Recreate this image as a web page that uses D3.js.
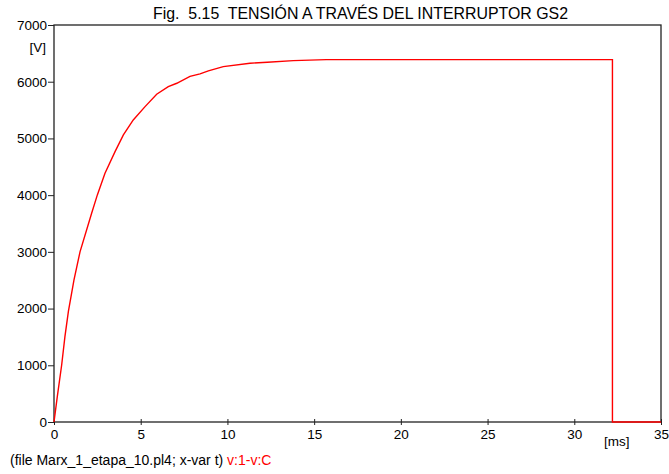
<!DOCTYPE html>
<html>
<head>
<meta charset="utf-8">
<script src="https://cdn.jsdelivr.net/npm/d3@7"></script>
<style>
  body { margin: 0; background: #fff; }
  text { font-family: "Liberation Sans", Arial, sans-serif; fill: #000; }
</style>
</head>
<body>
<div id="svg"></div>
<script>
// time [ms] and voltage [V]
let time = [0, 0.19, 0.44, 0.63, 0.83, 1.15, 1.5, 2.17, 2.5, 2.94, 3.52, 4.0, 4.57, 5.25, 5.92, 6.59, 7.08, 7.84, 8.42, 8.9, 9.76, 11.3, 12.3, 13.8, 15.7, 17.1, 20, 25, 30, 32.2, 32.2, 35];
let volts = [0, 446, 1000, 1505, 1950, 2500, 3000, 3680, 4004, 4386, 4767, 5062, 5326, 5561, 5780, 5914, 5973, 6095, 6138, 6190, 6266, 6325, 6344, 6372, 6390, 6390, 6390, 6390, 6390, 6390, 0, 0];
let xTicks = [0, 5, 10, 15, 20, 25, 30, 35];
let yTicks = [0, 1000, 2000, 3000, 4000, 5000, 6000, 7000];

function makeGraph(){
  let w = 669;
  let h = 474;
  let fs = 13.5;

  let svg = d3.select('#svg').append('svg').attr('width', w).attr('height', h);

  let xScale = d3.scaleLinear().domain([0, 35]).range([54, 661]);
  let yScale = d3.scaleLinear().domain([0, 7000]).range([422, 25]);

  // frame
  svg.append('rect')
    .attr('x', 54).attr('y', 25)
    .attr('width', 607).attr('height', 397)
    .attr('fill', 'none').attr('stroke', '#222').attr('stroke-width', 1.3);

  let xAxis = d3.axisBottom(xScale).tickValues(xTicks).tickFormat(d3.format('d')).tickSize(0).tickPadding(7);
  let xg = svg.append('g').attr('transform', 'translate(0,422)').call(xAxis);
  xg.select('.domain').remove();
  xg.selectAll('.tick line').attr('y1', -3).attr('y2', 3).attr('stroke', '#222');
  xg.selectAll('.tick text').attr('font-size', fs).attr('font-family', '"Liberation Sans", Arial, sans-serif').attr('fill', '#000');

  let yAxis = d3.axisLeft(yScale).tickValues(yTicks).tickFormat(d3.format('d')).tickSize(6).tickPadding(1);
  let yg = svg.append('g').attr('transform', 'translate(54,0)').call(yAxis);
  yg.select('.domain').remove();
  yg.selectAll('.tick line').attr('stroke', '#222');
  yg.selectAll('.tick text').attr('font-size', fs).attr('font-family', '"Liberation Sans", Arial, sans-serif').attr('fill', '#000');

  let line = d3.line()
    .x((d, i) => xScale(time[i]))
    .y((d) => yScale(d));

  svg.append('path')
    .datum(volts)
    .attr('d', line)
    .attr('fill', 'none')
    .attr('stroke', '#ff0000')
    .attr('stroke-width', 1.4);

  svg.append('text')
    .attr('x', 46).attr('y', 52)
    .attr('text-anchor', 'end')
    .attr('font-size', fs)
    .text('[V]');

  svg.append('text')
    .attr('x', 604).attr('y', 446)
    .attr('font-size', fs)
    .text('[ms]');

  svg.append('text')
    .attr('x', 153).attr('y', 19)
    .attr('font-size', 15.9)
    .attr('xml:space', 'preserve')
    .text('Fig.  5.15  TENSIÓN A TRAVÉS DEL INTERRUPTOR GS2');

  let foot = svg.append('text')
    .attr('x', 10).attr('y', 465)
    .attr('font-size', 14)
    .attr('xml:space', 'preserve');
  foot.append('tspan').text('(file Marx_1_etapa_10.pl4; x-var t) ');
  foot.append('tspan').attr('fill', '#ff0000').style('fill', '#ff0000').text('v:1-v:C');
}

window.onload = function(){
  makeGraph();
}
</script>
</body>
</html>
